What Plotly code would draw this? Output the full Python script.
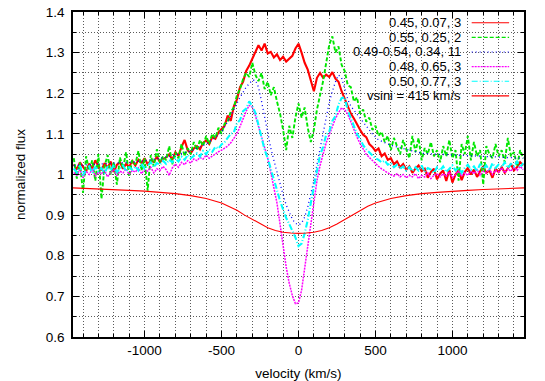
import plotly.graph_objects as go

# ---------------- data ----------------
velocity = list(range(-1460, 1461, 20))  # sampling grid of the observed spectra (km/s)

flux_045 = [
    1.025, 1.012, 1.030, 1.018, 1.008, 1.027, 1.015, 1.035, 1.020, 1.010,
    1.028, 1.016, 1.032, 1.006, 1.024, 1.030, 1.014, 1.026, 1.019, 1.033,
    1.022, 1.036, 1.028, 1.040, 1.025, 1.034, 1.031, 1.044, 1.030, 1.038,
    1.042, 1.050, 1.036, 1.055, 1.046, 1.068, 1.085, 1.060, 1.052, 1.064,
    1.070, 1.062, 1.078, 1.084, 1.075, 1.092, 1.088, 1.104, 1.112, 1.120,
    1.145, 1.132, 1.168, 1.185, 1.215, 1.228, 1.255, 1.268, 1.285, 1.300,
    1.318, 1.305, 1.322, 1.298, 1.302, 1.288, 1.296, 1.282, 1.290, 1.278,
    1.285, 1.292, 1.310, 1.322, 1.300, 1.275, 1.258, 1.232, 1.205, 1.238,
    1.250, 1.238, 1.246, 1.240, 1.252, 1.236, 1.228, 1.205, 1.185, 1.168,
    1.150, 1.138, 1.122, 1.110, 1.098, 1.092, 1.075, 1.068, 1.058, 1.064,
    1.045, 1.052, 1.036, 1.040, 1.025, 1.032, 1.018, 1.026, 1.012, 1.020,
    1.004, 1.015, 1.022, 1.008, 1.014, 0.992, 1.006, 1.014, 0.988, 1.002,
    1.010, 0.984, 1.012, 0.980, 1.000, 1.010, 0.986, 1.006, 1.016, 1.000,
    1.012, 0.994, 1.008, 1.020, 1.004, 1.010, 0.992, 1.014, 1.006, 1.018,
    1.004, 1.014, 1.026, 1.010, 1.018, 1.030, 1.022,
]

flux_055 = [
    1.040, 0.990, 1.030, 0.955, 1.045, 1.010, 1.035, 0.985, 1.050, 0.940,
    1.020, 1.048, 1.000, 1.030, 0.975, 1.042, 1.015, 1.055, 0.995, 1.035,
    1.025, 1.058, 1.010, 1.040, 0.960, 1.048, 1.020, 1.062, 1.030, 1.045,
    1.035, 1.070, 1.025, 1.055, 1.040, 1.075, 1.045, 1.065, 1.050, 1.080,
    1.060, 1.085, 1.070, 1.095, 1.075, 1.100, 1.090, 1.115, 1.100, 1.125,
    1.130, 1.155, 1.165, 1.195, 1.210, 1.235, 1.250, 1.240, 1.275, 1.245,
    1.230, 1.250, 1.210, 1.228, 1.195, 1.215, 1.180, 1.150, 1.110, 1.060,
    1.120, 1.090, 1.140, 1.175, 1.140, 1.165, 1.115, 1.080, 1.110, 1.160,
    1.195, 1.230, 1.275, 1.320, 1.340, 1.300, 1.315, 1.270, 1.255, 1.220,
    1.215, 1.180, 1.190, 1.150, 1.160, 1.130, 1.140, 1.110, 1.120, 1.095,
    1.105, 1.080, 1.095, 1.060, 1.090, 1.070, 1.050, 1.085, 1.065, 1.040,
    1.095, 1.055, 1.090, 1.035, 1.065, 1.050, 1.080, 1.045, 1.060, 1.030,
    1.070, 1.045, 1.085, 1.040, 1.060, 0.985, 1.075, 1.050, 1.095, 1.035,
    1.080, 1.045, 1.060, 0.975, 1.070, 1.050, 1.040, 1.075, 1.045, 1.060,
    1.030, 1.090, 1.045, 1.055, 1.020, 1.060, 1.040,
]

flux_048 = [
    1.005, 0.998, 1.012, 0.992, 1.008, 1.000, 1.014, 0.996, 1.006, 1.002,
    1.010, 0.994, 1.006, 1.012, 0.998, 1.008, 1.004, 1.014, 1.000, 1.010,
    1.006, 1.016, 1.002, 1.012, 1.008, 1.018, 1.004, 1.014, 1.010, 1.020,
    1.012, 0.998, 1.016, 1.026, 1.018, 1.030, 1.024, 1.034, 1.028, 1.038,
    1.034, 1.042, 1.038, 1.048, 1.040, 1.046, 1.050, 1.056, 1.060, 1.064,
    1.070, 1.078, 1.088, 1.100, 1.118, 1.138, 1.156, 1.170, 1.166, 1.145,
    1.118, 1.090, 1.062, 1.040, 1.005, 0.970, 0.930, 0.878, 0.822, 0.772,
    0.732, 0.702, 0.682, 0.684, 0.715, 0.770, 0.830, 0.888, 0.935, 0.985,
    1.022, 1.052, 1.078, 1.098, 1.118, 1.138, 1.152, 1.164, 1.160, 1.148,
    1.130, 1.110, 1.092, 1.076, 1.062, 1.050, 1.042, 1.034, 1.026, 1.020,
    1.014, 1.008, 1.004, 1.000, 0.996, 1.002, 0.994, 1.000, 0.992, 0.998,
    0.994, 1.002, 0.990, 0.998, 0.994, 1.004, 0.990, 0.998, 1.002, 0.994,
    1.002, 0.996, 1.006, 0.992, 1.000, 1.008, 0.996, 1.004, 0.998, 1.008,
    1.002, 1.012, 0.998, 1.008, 1.004, 1.014, 1.000, 1.010, 1.006, 1.016,
    1.004, 1.014, 1.008, 1.018, 1.010, 1.020, 1.012,
]

flux_050 = [
    1.015, 1.005, 1.022, 0.998, 1.012, 1.020, 1.004, 1.018, 1.008, 1.016,
    1.002, 1.020, 1.010, 1.024, 1.006, 1.015, 1.022, 1.008, 1.018, 1.012,
    1.020, 1.010, 1.026, 1.014, 1.022, 1.030, 1.018, 1.028, 1.024, 1.034,
    1.026, 1.036, 1.030, 1.040, 1.032, 1.044, 1.036, 1.048, 1.040, 1.046,
    1.052, 1.044, 1.058, 1.050, 1.062, 1.056, 1.068, 1.064, 1.074, 1.080,
    1.090, 1.100, 1.104, 1.126, 1.134, 1.156, 1.162, 1.180, 1.168, 1.152,
    1.122, 1.092, 1.060, 1.040, 1.012, 0.988, 0.962, 0.935, 0.912, 0.893,
    0.878, 0.862, 0.845, 0.824, 0.830, 0.855, 0.888, 0.930, 0.972, 1.012,
    1.048, 1.068, 1.098, 1.106, 1.132, 1.144, 1.172, 1.188, 1.190, 1.158,
    1.140, 1.118, 1.100, 1.088, 1.072, 1.062, 1.054, 1.046, 1.040, 1.036,
    1.030, 1.034, 1.024, 1.028, 1.018, 1.024, 1.014, 1.020, 1.010, 1.018,
    1.008, 1.018, 1.010, 1.022, 1.006, 1.016, 1.012, 1.004, 1.018, 1.010,
    1.020, 1.006, 1.014, 1.022, 1.010, 1.018, 1.004, 1.016, 1.024, 1.012,
    1.020, 1.008, 1.026, 1.014, 1.022, 1.010, 1.028, 1.016, 1.024, 1.018,
    1.030, 1.016, 1.026, 1.020, 1.032, 1.018, 1.028,
]

# averaged spectrum (11 spectra) - smoother, own sampling
velocity_avg = [-1460, -1300, -1200, -1100, -1000, -900, -800, -700, -600, -550,
                -500, -460, -420, -380, -340, -300, -280, -260, -240, -220,
                -200, -180, -160, -140, -120, -100, -80, -60, -40, -20,
                0, 20, 40, 60, 80, 100, 120, 140, 160, 180,
                200, 220, 240, 260, 280, 300, 320, 340, 360, 400,
                440, 480, 520, 600, 700, 800, 900, 1000, 1100, 1200,
                1300, 1400, 1460]
flux_avg = [1.022, 1.025, 1.027, 1.030, 1.034, 1.040, 1.048, 1.058, 1.075, 1.088,
            1.105, 1.130, 1.160, 1.190, 1.215, 1.232, 1.232, 1.215, 1.180, 1.140,
            1.100, 1.065, 1.035, 1.005, 0.975, 0.950, 0.925, 0.905, 0.890, 0.880,
            0.876, 0.880, 0.895, 0.920, 0.950, 0.985, 1.025, 1.065, 1.105, 1.145,
            1.178, 1.205, 1.228, 1.245, 1.238, 1.212, 1.185, 1.168, 1.158, 1.140,
            1.120, 1.100, 1.085, 1.072, 1.062, 1.052, 1.050, 1.048, 1.046, 1.045,
            1.042, 1.040, 1.040]

# rotationally broadened model, vsini = 415 km/s
velocity_model = [-1465, -1300, -1200, -1100, -1000, -900, -800, -700, -600, -500,
                  -450, -400, -350, -300, -250, -200, -150, -100, -50, 0,
                  50, 100, 150, 200, 250, 300, 350, 400, 450, 500,
                  600, 700, 800, 900, 1000, 1100, 1200, 1300, 1465]
flux_model = [0.967, 0.965, 0.963, 0.961, 0.959, 0.956, 0.953, 0.948, 0.941, 0.930,
              0.922, 0.912, 0.900, 0.889, 0.878, 0.869, 0.862, 0.858, 0.856, 0.855,
              0.856, 0.858, 0.862, 0.869, 0.878, 0.889, 0.900, 0.912, 0.922, 0.930,
              0.941, 0.948, 0.953, 0.956, 0.959, 0.961, 0.963, 0.965, 0.967]

legend_labels = ["0.45, 0.07, 3", "0.55, 0.25, 2", "0.49-0.54, 0.34, 11",
                 "0.48, 0.65, 3", "0.50, 0.77, 3", "vsini = 415 km/s"]
x_tick_vals = [-1000, -500, 0, 500, 1000]
x_tick_text = ["-1000", "-500", "0", "500", "1000"]
y_tick_vals = [0.6, 0.7, 0.8, 0.9, 1.0, 1.1, 1.2, 1.3, 1.4]
y_tick_text = ["0.6", "0.7", "0.8", "0.9", "1", "1.1", "1.2", "1.3", "1.4"]

# ---------------- styles ----------------
series = [
    (velocity, flux_045, "#ff0000", "solid", 2.1),
    (velocity, flux_055, "#00e600", "4px,2px", 1.9),
    (velocity_avg, flux_avg, "#0000ff", "1px,3px", 1.3),
    (velocity, flux_048, "#ff00ff", "2px,1px", 1.5),
    (velocity, flux_050, "#00ffff", "6px,2px,1px,2px", 2.1),
    (velocity_model, flux_model, "#ff0000", "solid", 1.1),
]

fig = go.Figure()
for (xs, ys, col, dash, w), name in zip(series, legend_labels):
    fig.add_trace(go.Scatter(x=xs, y=ys, mode="lines", name=name,
                             line=dict(color=col, width=w, dash=dash)))

FONT = "Liberation Sans, Arial, Helvetica, sans-serif"
grid_col = "#5a5a5a"
grid_dash = "1px,2px"

fig.update_layout(
    width=545, height=381,
    margin=dict(l=73, r=21, t=12, b=44),
    plot_bgcolor="white", paper_bgcolor="white",
    showlegend=False,
    font=dict(family=FONT, size=13.5, color="black"),
)

fig.update_xaxes(
    range=[-1465, 1465], automargin=False,
    tickmode="array", tickvals=x_tick_vals, ticktext=x_tick_text,
    ticks="inside", ticklen=6, tickcolor="black", tickwidth=1,
    mirror="allticks", showline=True, linecolor="black", linewidth=1.5,
    showgrid=True, gridcolor=grid_col, griddash=grid_dash, gridwidth=1,
    zeroline=False,
    minor=dict(dtick=100, tick0=0, ticks="inside", ticklen=3, tickcolor="black",
               showgrid=True, gridcolor=grid_col, griddash=grid_dash, gridwidth=1),
    tickfont=dict(size=13.5, color="black"),
    title=dict(text="velocity (km/s)", standoff=14, font=dict(size=13.5, color="black")),
)
fig.update_yaxes(
    range=[0.6, 1.4], automargin=False,
    tickmode="array", tickvals=y_tick_vals, ticktext=y_tick_text,
    ticks="inside", ticklen=6, tickcolor="black", tickwidth=1,
    mirror="allticks", showline=True, linecolor="black", linewidth=1.5,
    showgrid=True, gridcolor=grid_col, griddash=grid_dash, gridwidth=1,
    zeroline=False,
    minor=dict(dtick=0.05, tick0=0.6, ticks="inside", ticklen=3, tickcolor="black",
               showgrid=True, gridcolor=grid_col, griddash=grid_dash, gridwidth=1),
    tickfont=dict(size=13.5, color="black"),
    ticklabelstandoff=4,
    title=dict(text="normalized flux", standoff=17, font=dict(size=13.5, color="black")),
)

# gnuplot-style key: text right-aligned, sample line to its right
row_y = [0.967, 0.922, 0.877, 0.832, 0.787, 0.742]
for (xs, ys, col, dash, w), name, yy in zip(series, legend_labels, row_y):
    fig.add_annotation(x=0.862, y=yy, xref="paper", yref="paper", text=name,
                       showarrow=False, xanchor="right", yanchor="middle",
                       borderpad=0,
                       font=dict(family=FONT, size=13, color="black"))
    fig.add_shape(type="line", xref="paper", yref="paper", x0=0.884, x1=0.967,
                  y0=yy, y1=yy, line=dict(color=col, width=1.2, dash=dash))

fig.write_html("out.html")
